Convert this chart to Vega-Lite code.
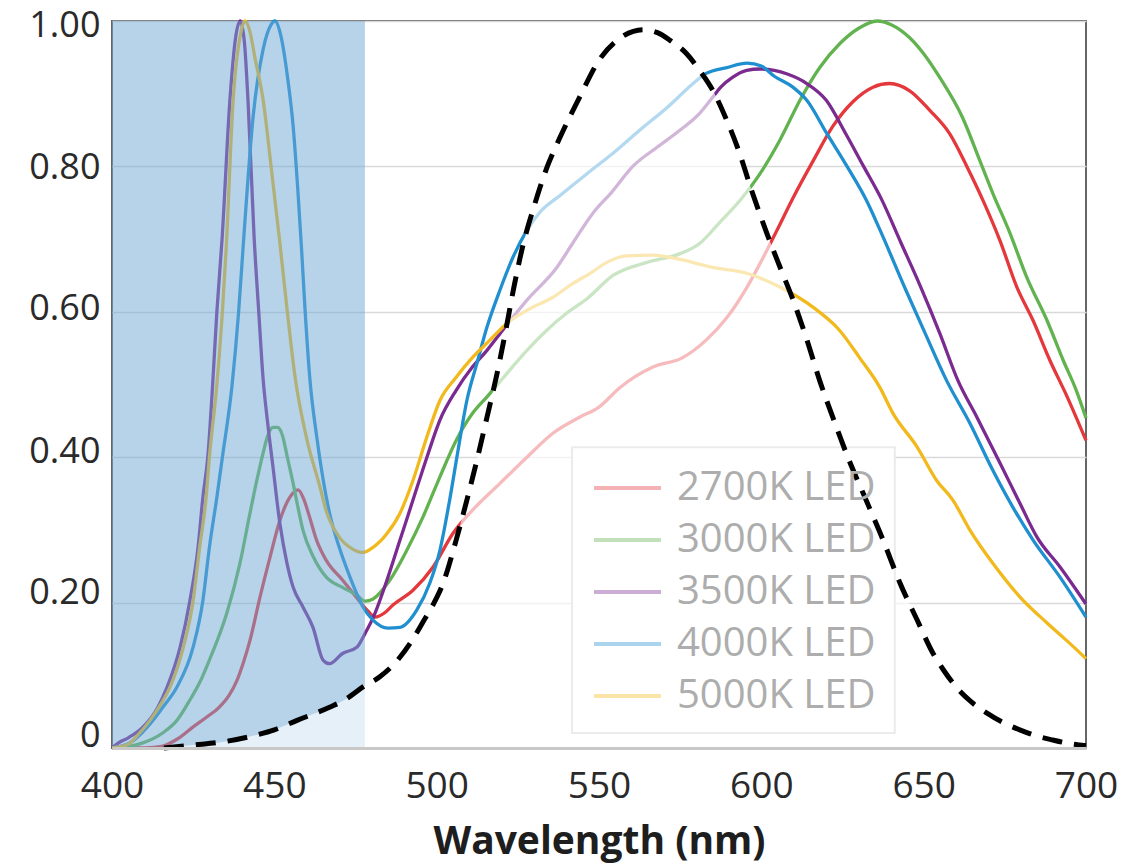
{
"$schema": "https://vega.github.io/schema/vega-lite/v6.json",
"width": 974, "height": 727,
"autosize": "none",
"padding": {"left": 112, "top": 21, "right": 54, "bottom": 119},
"background": "white",
"config": {"font": "Open Sans", "view": {"stroke": "#666666", "strokeWidth": 2}},
"datasets": {
"led": [
{"led":"2700K LED","wl":400,"val":0},{"led":"2700K LED","wl":408,"val":0},{"led":"2700K LED","wl":413,"val":0.001},{"led":"2700K LED","wl":416,"val":0.003},{"led":"2700K LED","wl":420,"val":0.012},{"led":"2700K LED","wl":425,"val":0.029},{"led":"2700K LED","wl":429,"val":0.042},{"led":"2700K LED","wl":433,"val":0.056},{"led":"2700K LED","wl":436,"val":0.072},{"led":"2700K LED","wl":438.5,"val":0.093},{"led":"2700K LED","wl":440.5,"val":0.118},{"led":"2700K LED","wl":442.5,"val":0.148},{"led":"2700K LED","wl":445.6,"val":0.208},{"led":"2700K LED","wl":448.7,"val":0.263},{"led":"2700K LED","wl":451.7,"val":0.313},{"led":"2700K LED","wl":454.8,"val":0.345},{"led":"2700K LED","wl":457.3,"val":0.355},{"led":"2700K LED","wl":459,"val":0.343},{"led":"2700K LED","wl":460.5,"val":0.323},{"led":"2700K LED","wl":463,"val":0.286},{"led":"2700K LED","wl":466,"val":0.258},{"led":"2700K LED","wl":471,"val":0.231},{"led":"2700K LED","wl":475.5,"val":0.206},{"led":"2700K LED","wl":478.5,"val":0.19},{"led":"2700K LED","wl":481,"val":0.18},{"led":"2700K LED","wl":484,"val":0.186},{"led":"2700K LED","wl":486.6,"val":0.197},{"led":"2700K LED","wl":492.7,"val":0.217},{"led":"2700K LED","wl":498.9,"val":0.249},{"led":"2700K LED","wl":505,"val":0.295},{"led":"2700K LED","wl":511,"val":0.327},{"led":"2700K LED","wl":519.5,"val":0.364},{"led":"2700K LED","wl":527.8,"val":0.4},{"led":"2700K LED","wl":535.8,"val":0.433},{"led":"2700K LED","wl":544,"val":0.455},{"led":"2700K LED","wl":550,"val":0.469},{"led":"2700K LED","wl":556.5,"val":0.496},{"led":"2700K LED","wl":566.6,"val":0.524},{"led":"2700K LED","wl":575.8,"val":0.537},{"led":"2700K LED","wl":583,"val":0.561},{"led":"2700K LED","wl":589.4,"val":0.592},{"led":"2700K LED","wl":595.6,"val":0.634},{"led":"2700K LED","wl":600.6,"val":0.675},{"led":"2700K LED","wl":604.8,"val":0.712},{"led":"2700K LED","wl":609.8,"val":0.757},{"led":"2700K LED","wl":616,"val":0.808},{"led":"2700K LED","wl":622,"val":0.855},{"led":"2700K LED","wl":628.2,"val":0.889},{"led":"2700K LED","wl":634.4,"val":0.909},{"led":"2700K LED","wl":639.5,"val":0.914},{"led":"2700K LED","wl":645.7,"val":0.904},{"led":"2700K LED","wl":651.9,"val":0.877},{"led":"2700K LED","wl":658,"val":0.845},{"led":"2700K LED","wl":663.3,"val":0.8},{"led":"2700K LED","wl":668.3,"val":0.753},{"led":"2700K LED","wl":673.5,"val":0.698},{"led":"2700K LED","wl":678.7,"val":0.634},{"led":"2700K LED","wl":683.7,"val":0.588},{"led":"2700K LED","wl":688.9,"val":0.533},{"led":"2700K LED","wl":694,"val":0.485},{"led":"2700K LED","wl":700,"val":0.423},
{"led":"3000K LED","wl":400,"val":0},{"led":"3000K LED","wl":405,"val":0.002},{"led":"3000K LED","wl":409.5,"val":0.007},{"led":"3000K LED","wl":415.7,"val":0.021},{"led":"3000K LED","wl":420,"val":0.038},{"led":"3000K LED","wl":424,"val":0.066},{"led":"3000K LED","wl":427,"val":0.09},{"led":"3000K LED","wl":430,"val":0.121},{"led":"3000K LED","wl":435.4,"val":0.186},{"led":"3000K LED","wl":439.4,"val":0.254},{"led":"3000K LED","wl":442.5,"val":0.323},{"led":"3000K LED","wl":444.6,"val":0.368},{"led":"3000K LED","wl":446.5,"val":0.405},{"led":"3000K LED","wl":448,"val":0.43},{"led":"3000K LED","wl":449.6,"val":0.441},{"led":"3000K LED","wl":451,"val":0.441},{"led":"3000K LED","wl":452.5,"val":0.43},{"led":"3000K LED","wl":454,"val":0.4},{"led":"3000K LED","wl":455.8,"val":0.364},{"led":"3000K LED","wl":457,"val":0.337},{"led":"3000K LED","wl":458.8,"val":0.3},{"led":"3000K LED","wl":462,"val":0.263},{"led":"3000K LED","wl":466,"val":0.235},{"led":"3000K LED","wl":471,"val":0.221},{"led":"3000K LED","wl":475.5,"val":0.21},{"led":"3000K LED","wl":478,"val":0.202},{"led":"3000K LED","wl":480.4,"val":0.205},{"led":"3000K LED","wl":485.6,"val":0.231},{"led":"3000K LED","wl":490.8,"val":0.272},{"led":"3000K LED","wl":495.8,"val":0.318},{"led":"3000K LED","wl":501,"val":0.373},{"led":"3000K LED","wl":506,"val":0.423},{"led":"3000K LED","wl":511,"val":0.46},{"led":"3000K LED","wl":515.5,"val":0.483},{"led":"3000K LED","wl":521.6,"val":0.515},{"led":"3000K LED","wl":527.8,"val":0.547},{"led":"3000K LED","wl":534,"val":0.575},{"led":"3000K LED","wl":540,"val":0.598},{"led":"3000K LED","wl":546.3,"val":0.618},{"led":"3000K LED","wl":554.3,"val":0.65},{"led":"3000K LED","wl":564.8,"val":0.668},{"led":"3000K LED","wl":575,"val":0.68},{"led":"3000K LED","wl":581,"val":0.694},{"led":"3000K LED","wl":587,"val":0.722},{"led":"3000K LED","wl":593.4,"val":0.753},{"led":"3000K LED","wl":599.6,"val":0.79},{"led":"3000K LED","wl":605.7,"val":0.836},{"led":"3000K LED","wl":611.9,"val":0.891},{"led":"3000K LED","wl":618,"val":0.936},{"led":"3000K LED","wl":624.2,"val":0.969},{"led":"3000K LED","wl":630,"val":0.99},{"led":"3000K LED","wl":635.6,"val":1.0},{"led":"3000K LED","wl":640,"val":0.995},{"led":"3000K LED","wl":645.7,"val":0.977},{"led":"3000K LED","wl":650,"val":0.955},{"led":"3000K LED","wl":655,"val":0.922},{"led":"3000K LED","wl":662,"val":0.867},{"led":"3000K LED","wl":667.3,"val":0.808},{"led":"3000K LED","wl":671.3,"val":0.763},{"led":"3000K LED","wl":676.6,"val":0.708},{"led":"3000K LED","wl":681.8,"val":0.647},{"led":"3000K LED","wl":688,"val":0.588},{"led":"3000K LED","wl":693,"val":0.533},{"led":"3000K LED","wl":697,"val":0.492},{"led":"3000K LED","wl":700,"val":0.454},
{"led":"3500K LED","wl":400,"val":0},{"led":"3500K LED","wl":402,"val":0.007},{"led":"3500K LED","wl":405,"val":0.014},{"led":"3500K LED","wl":409.6,"val":0.029},{"led":"3500K LED","wl":414,"val":0.055},{"led":"3500K LED","wl":417,"val":0.084},{"led":"3500K LED","wl":421,"val":0.139},{"led":"3500K LED","wl":424,"val":0.203},{"led":"3500K LED","wl":426.5,"val":0.276},{"led":"3500K LED","wl":428,"val":0.345},{"led":"3500K LED","wl":429.5,"val":0.4},{"led":"3500K LED","wl":431,"val":0.5},{"led":"3500K LED","wl":432.3,"val":0.6},{"led":"3500K LED","wl":433.9,"val":0.7},{"led":"3500K LED","wl":436.3,"val":0.89},{"led":"3500K LED","wl":438,"val":0.975},{"led":"3500K LED","wl":439.5,"val":1.0},{"led":"3500K LED","wl":440.8,"val":0.97},{"led":"3500K LED","wl":441.9,"val":0.89},{"led":"3500K LED","wl":443.8,"val":0.7},{"led":"3500K LED","wl":445.2,"val":0.6},{"led":"3500K LED","wl":446.5,"val":0.51},{"led":"3500K LED","wl":448,"val":0.445},{"led":"3500K LED","wl":449.6,"val":0.386},{"led":"3500K LED","wl":451.7,"val":0.309},{"led":"3500K LED","wl":453.9,"val":0.254},{"led":"3500K LED","wl":455.8,"val":0.221},{"led":"3500K LED","wl":458.8,"val":0.194},{"led":"3500K LED","wl":461.9,"val":0.166},{"led":"3500K LED","wl":465,"val":0.121},{"led":"3500K LED","wl":467,"val":0.116},{"led":"3500K LED","wl":471,"val":0.13},{"led":"3500K LED","wl":475.5,"val":0.139},{"led":"3500K LED","wl":478,"val":0.158},{"led":"3500K LED","wl":480.5,"val":0.18},{"led":"3500K LED","wl":484.7,"val":0.231},{"led":"3500K LED","wl":488.7,"val":0.286},{"led":"3500K LED","wl":492.7,"val":0.341},{"led":"3500K LED","wl":497,"val":0.4},{"led":"3500K LED","wl":501,"val":0.451},{"led":"3500K LED","wl":506,"val":0.492},{"led":"3500K LED","wl":511,"val":0.524},{"led":"3500K LED","wl":515.5,"val":0.547},{"led":"3500K LED","wl":519.5,"val":0.57},{"led":"3500K LED","wl":527.8,"val":0.616},{"led":"3500K LED","wl":537,"val":0.661},{"led":"3500K LED","wl":542,"val":0.695},{"led":"3500K LED","wl":548,"val":0.735},{"led":"3500K LED","wl":554,"val":0.765},{"led":"3500K LED","wl":560.4,"val":0.8},{"led":"3500K LED","wl":567.8,"val":0.826},{"led":"3500K LED","wl":575,"val":0.85},{"led":"3500K LED","wl":581,"val":0.873},{"led":"3500K LED","wl":585,"val":0.895},{"led":"3500K LED","wl":587.5,"val":0.909},{"led":"3500K LED","wl":591,"val":0.922},{"led":"3500K LED","wl":595.5,"val":0.932},{"led":"3500K LED","wl":599.6,"val":0.934},{"led":"3500K LED","wl":604,"val":0.932},{"led":"3500K LED","wl":608,"val":0.927},{"led":"3500K LED","wl":614,"val":0.914},{"led":"3500K LED","wl":620,"val":0.891},{"led":"3500K LED","wl":626,"val":0.845},{"led":"3500K LED","wl":631.5,"val":0.8},{"led":"3500K LED","wl":637,"val":0.755},{"led":"3500K LED","wl":643,"val":0.695},{"led":"3500K LED","wl":649,"val":0.635},{"led":"3500K LED","wl":655,"val":0.57},{"led":"3500K LED","wl":660.5,"val":0.506},{"led":"3500K LED","wl":666.4,"val":0.455},{"led":"3500K LED","wl":673.5,"val":0.392},{"led":"3500K LED","wl":679.6,"val":0.337},{"led":"3500K LED","wl":684.9,"val":0.29},{"led":"3500K LED","wl":692,"val":0.249},{"led":"3500K LED","wl":700,"val":0.198},
{"led":"4000K LED","wl":400,"val":0},{"led":"4000K LED","wl":405.5,"val":0.007},{"led":"4000K LED","wl":409,"val":0.02},{"led":"4000K LED","wl":412.6,"val":0.038},{"led":"4000K LED","wl":416,"val":0.058},{"led":"4000K LED","wl":420,"val":0.084},{"led":"4000K LED","wl":425,"val":0.139},{"led":"4000K LED","wl":428,"val":0.203},{"led":"4000K LED","wl":430,"val":0.276},{"led":"4000K LED","wl":432.3,"val":0.345},{"led":"4000K LED","wl":434,"val":0.4},{"led":"4000K LED","wl":437,"val":0.5},{"led":"4000K LED","wl":439,"val":0.6},{"led":"4000K LED","wl":440.4,"val":0.69},{"led":"4000K LED","wl":443.5,"val":0.87},{"led":"4000K LED","wl":446.5,"val":0.96},{"led":"4000K LED","wl":449,"val":0.995},{"led":"4000K LED","wl":450.2,"val":1.0},{"led":"4000K LED","wl":452,"val":0.98},{"led":"4000K LED","wl":454,"val":0.925},{"led":"4000K LED","wl":455.8,"val":0.855},{"led":"4000K LED","wl":457.2,"val":0.77},{"led":"4000K LED","wl":458.4,"val":0.685},{"led":"4000K LED","wl":459.5,"val":0.6},{"led":"4000K LED","wl":461,"val":0.505},{"led":"4000K LED","wl":463,"val":0.43},{"led":"4000K LED","wl":465,"val":0.37},{"led":"4000K LED","wl":467,"val":0.323},{"led":"4000K LED","wl":470,"val":0.276},{"led":"4000K LED","wl":473.3,"val":0.235},{"led":"4000K LED","wl":477.3,"val":0.194},{"led":"4000K LED","wl":480.4,"val":0.176},{"led":"4000K LED","wl":485,"val":0.165},{"led":"4000K LED","wl":488.7,"val":0.166},{"led":"4000K LED","wl":493.9,"val":0.19},{"led":"4000K LED","wl":497.9,"val":0.227},{"led":"4000K LED","wl":501,"val":0.272},{"led":"4000K LED","wl":504,"val":0.341},{"led":"4000K LED","wl":506.6,"val":0.41},{"led":"4000K LED","wl":509.3,"val":0.478},{"led":"4000K LED","wl":512.4,"val":0.529},{"led":"4000K LED","wl":515.5,"val":0.579},{"led":"4000K LED","wl":519.5,"val":0.63},{"led":"4000K LED","wl":523.5,"val":0.675},{"led":"4000K LED","wl":527.8,"val":0.712},{"led":"4000K LED","wl":531.8,"val":0.737},{"led":"4000K LED","wl":538,"val":0.76},{"led":"4000K LED","wl":546.3,"val":0.79},{"led":"4000K LED","wl":554.3,"val":0.818},{"led":"4000K LED","wl":562.6,"val":0.85},{"led":"4000K LED","wl":571,"val":0.881},{"led":"4000K LED","wl":579,"val":0.914},{"led":"4000K LED","wl":583,"val":0.928},{"led":"4000K LED","wl":589.4,"val":0.936},{"led":"4000K LED","wl":595.6,"val":0.942},{"led":"4000K LED","wl":600,"val":0.938},{"led":"4000K LED","wl":604,"val":0.924},{"led":"4000K LED","wl":609.7,"val":0.909},{"led":"4000K LED","wl":614,"val":0.891},{"led":"4000K LED","wl":620.2,"val":0.845},{"led":"4000K LED","wl":626.4,"val":0.8},{"led":"4000K LED","wl":632.4,"val":0.753},{"led":"4000K LED","wl":636.5,"val":0.713},{"led":"4000K LED","wl":644.5,"val":0.63},{"led":"4000K LED","wl":650.5,"val":0.57},{"led":"4000K LED","wl":657,"val":0.506},{"led":"4000K LED","wl":664.2,"val":0.447},{"led":"4000K LED","wl":671.3,"val":0.382},{"led":"4000K LED","wl":677.5,"val":0.331},{"led":"4000K LED","wl":683.7,"val":0.286},{"led":"4000K LED","wl":692,"val":0.235},{"led":"4000K LED","wl":700,"val":0.18},
{"led":"5000K LED","wl":400,"val":0},{"led":"5000K LED","wl":405,"val":0.005},{"led":"5000K LED","wl":408,"val":0.018},{"led":"5000K LED","wl":411.7,"val":0.038},{"led":"5000K LED","wl":415,"val":0.06},{"led":"5000K LED","wl":417.9,"val":0.084},{"led":"5000K LED","wl":422,"val":0.139},{"led":"5000K LED","wl":425,"val":0.203},{"led":"5000K LED","wl":427,"val":0.276},{"led":"5000K LED","wl":429,"val":0.345},{"led":"5000K LED","wl":430,"val":0.4},{"led":"5000K LED","wl":432.3,"val":0.5},{"led":"5000K LED","wl":434,"val":0.6},{"led":"5000K LED","wl":435.2,"val":0.69},{"led":"5000K LED","wl":437.3,"val":0.89},{"led":"5000K LED","wl":439.5,"val":0.98},{"led":"5000K LED","wl":441,"val":1.0},{"led":"5000K LED","wl":442.5,"val":0.985},{"led":"5000K LED","wl":444,"val":0.95},{"led":"5000K LED","wl":446.6,"val":0.89},{"led":"5000K LED","wl":449,"val":0.8},{"led":"5000K LED","wl":451.7,"val":0.695},{"led":"5000K LED","wl":454,"val":0.6},{"led":"5000K LED","wl":456.4,"val":0.51},{"led":"5000K LED","wl":460,"val":0.425},{"led":"5000K LED","wl":464,"val":0.36},{"led":"5000K LED","wl":466,"val":0.326},{"led":"5000K LED","wl":470,"val":0.29},{"led":"5000K LED","wl":474,"val":0.274},{"led":"5000K LED","wl":477.3,"val":0.269},{"led":"5000K LED","wl":480.4,"val":0.276},{"led":"5000K LED","wl":484.7,"val":0.295},{"led":"5000K LED","wl":488.7,"val":0.323},{"led":"5000K LED","wl":492.7,"val":0.368},{"led":"5000K LED","wl":497,"val":0.428},{"led":"5000K LED","wl":501,"val":0.478},{"led":"5000K LED","wl":506,"val":0.51},{"led":"5000K LED","wl":511,"val":0.537},{"led":"5000K LED","wl":516.4,"val":0.561},{"led":"5000K LED","wl":521.6,"val":0.584},{"led":"5000K LED","wl":527.8,"val":0.602},{"led":"5000K LED","wl":535.8,"val":0.62},{"led":"5000K LED","wl":542,"val":0.639},{"led":"5000K LED","wl":548,"val":0.655},{"led":"5000K LED","wl":552.4,"val":0.668},{"led":"5000K LED","wl":558.6,"val":0.677},{"led":"5000K LED","wl":566.6,"val":0.678},{"led":"5000K LED","wl":575,"val":0.672},{"led":"5000K LED","wl":585,"val":0.661},{"led":"5000K LED","wl":595.5,"val":0.653},{"led":"5000K LED","wl":605.7,"val":0.634},{"led":"5000K LED","wl":616,"val":0.606},{"led":"5000K LED","wl":624,"val":0.575},{"led":"5000K LED","wl":630.4,"val":0.536},{"led":"5000K LED","wl":636.5,"val":0.496},{"led":"5000K LED","wl":640.6,"val":0.46},{"led":"5000K LED","wl":648,"val":0.414},{"led":"5000K LED","wl":654,"val":0.368},{"led":"5000K LED","wl":659,"val":0.341},{"led":"5000K LED","wl":664.2,"val":0.3},{"led":"5000K LED","wl":671.3,"val":0.254},{"led":"5000K LED","wl":679.6,"val":0.208},{"led":"5000K LED","wl":688,"val":0.172},{"led":"5000K LED","wl":694,"val":0.148},{"led":"5000K LED","wl":700,"val":0.123}
],
"vlambda": [
{"wl":416,"val":0},{"wl":425,"val":0.004},{"wl":435,"val":0.009},{"wl":444.6,"val":0.018},{"wl":450,"val":0.025},{"wl":457,"val":0.038},{"wl":467,"val":0.056},{"wl":472,"val":0.067},{"wl":477.3,"val":0.084},{"wl":482.5,"val":0.098},{"wl":488,"val":0.121},{"wl":492,"val":0.145},{"wl":496,"val":0.175},{"wl":499,"val":0.198},{"wl":502,"val":0.227},{"wl":506,"val":0.286},{"wl":509.3,"val":0.341},{"wl":512.4,"val":0.396},{"wl":515.5,"val":0.455},{"wl":518.6,"val":0.515},{"wl":521.3,"val":0.575},{"wl":523.8,"val":0.634},{"wl":526.5,"val":0.69},{"wl":530,"val":0.745},{"wl":534,"val":0.799},{"wl":538,"val":0.84},{"wl":544,"val":0.895},{"wl":550,"val":0.946},{"wl":557,"val":0.978},{"wl":563.5,"val":0.988},{"wl":568,"val":0.984},{"wl":572,"val":0.973},{"wl":577,"val":0.955},{"wl":581,"val":0.932},{"wl":585,"val":0.905},{"wl":589,"val":0.867},{"wl":593,"val":0.822},{"wl":597,"val":0.767},{"wl":601.7,"val":0.708},{"wl":605.7,"val":0.662},{"wl":609.8,"val":0.616},{"wl":614,"val":0.562},{"wl":618,"val":0.505},{"wl":622,"val":0.455},{"wl":627,"val":0.396},{"wl":631.4,"val":0.35},{"wl":637.5,"val":0.286},{"wl":642.7,"val":0.227},{"wl":648,"val":0.176},{"wl":652.9,"val":0.13},{"wl":656,"val":0.108},{"wl":660,"val":0.084},{"wl":664.5,"val":0.064},{"wl":669.5,"val":0.048},{"wl":674.5,"val":0.035},{"wl":679.6,"val":0.025},{"wl":684.5,"val":0.017},{"wl":689.8,"val":0.011},{"wl":695,"val":0.006},{"wl":700,"val":0.003}
],
"blueband": [{"wl":400,"wl2":477.9,"val":0,"val2":1}],
"legendbox": [{"wl":541.7,"wl2":641.1,"val":0.0206,"val2":0.4137}]
},
"layer": [
{
"data": {"name": "led"},
"mark": {"type": "line", "strokeWidth": 3.3, "interpolate": "monotone"},
"encoding": {
"x": {"field": "wl", "type": "quantitative", "title": "Wavelength (nm)",
"scale": {"domain": [400, 700], "nice": false, "zero": false},
"axis": {"values": [400,450,500,550,600,650,700], "grid": false, "ticks": false, "domainColor": "#c8c8c8", "domainWidth": 3, "labelFont": "Open Sans", "labelFontSize": 37, "labelColor": "#2a2a2a", "labelPadding": 20, "labelFlush": false, "labelOverlap": false, "titleFont": "Open Sans", "titleFontSize": 39, "titleFontWeight": "bold", "titleColor": "#1e1e1e", "titlePadding": 18, "zindex": 1}},
"y": {"field": "val", "type": "quantitative", "title": null,
"scale": {"domain": [0, 1], "nice": false},
"axis": {"values": [0,0.2,0.4,0.6,0.8,1], "grid": true, "gridColor": "#d9d9d9", "gridWidth": 1.5, "domain": false, "ticks": false, "labelFont": "Open Sans", "labelFontSize": 36, "labelColor": "#2a2a2a", "labelPadding": 12, "labelFlush": false, "labelOverlap": false,
"labelExpr": "datum.value == 0 ? '0' : format(datum.value, '.2f')",
"labelOffset": {"condition": [{"test": "datum.value < 0.1", "value": -13}, {"test": "datum.value < 0.3", "value": -10}, {"test": "datum.value < 0.5", "value": -6}, {"test": "datum.value < 0.7", "value": -3}, {"test": "datum.value < 0.9", "value": 1}], "value": 4}}},
"color": {"field": "led", "type": "nominal",
"scale": {"domain": ["2700K LED","3000K LED","3500K LED","4000K LED","5000K LED"], "range": ["#e4383c","#62b34f","#7b2b90","#1f8fcf","#f2b91d"]},
"legend": {"orient": "none", "legendX": 462, "legendY": 423, "title": null, "symbolType": "stroke", "symbolSize": 4489, "symbolStrokeWidth": 4, "symbolOpacity": 0.38, "labelFont": "Open Sans", "labelFontSize": 40, "labelColor": "#adadad", "labelOffset": 14, "rowPadding": 0, "clipHeight": 52, "padding": 18, "labelLimit": 400}}
}
},
{
"data": {"name": "blueband"},
"mark": {"type": "rect", "color": "#6fa8d6", "opacity": 0.5},
"encoding": {
"x": {"field": "wl", "type": "quantitative", "title": "Wavelength (nm)"},
"x2": {"field": "wl2"},
"y": {"field": "val", "type": "quantitative", "title": null},
"y2": {"field": "val2"}
}
},
{
"data": {"name": "vlambda"},
"mark": {"type": "area", "color": "white", "opacity": 0.66, "interpolate": "monotone"},
"encoding": {
"x": {"field": "wl", "type": "quantitative", "title": "Wavelength (nm)"},
"y": {"field": "val", "type": "quantitative", "title": null}
}
},
{
"data": {"name": "legendbox"},
"mark": {"type": "rect", "fill": "white", "stroke": "#ebebeb", "strokeWidth": 2},
"encoding": {
"x": {"field": "wl", "type": "quantitative", "title": "Wavelength (nm)"},
"x2": {"field": "wl2"},
"y": {"field": "val", "type": "quantitative", "title": null},
"y2": {"field": "val2"}
}
},
{
"data": {"name": "vlambda"},
"mark": {"type": "line", "color": "black", "strokeWidth": 5, "strokeDash": [20, 12], "interpolate": "monotone"},
"encoding": {
"x": {"field": "wl", "type": "quantitative", "title": "Wavelength (nm)"},
"y": {"field": "val", "type": "quantitative", "title": null}
}
}
]
}
